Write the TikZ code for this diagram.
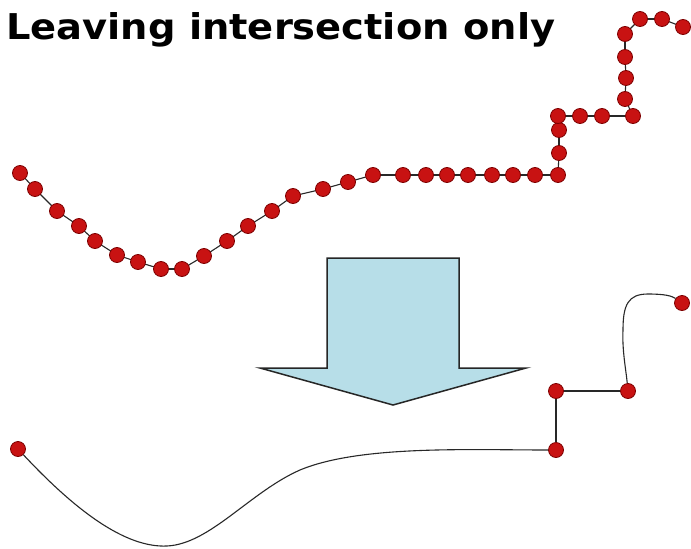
\documentclass[tikz,border=0pt]{standalone}
\usepackage{fontspec}
\setmainfont{DejaVu Sans}
\usepackage{graphicx}
\definecolor{dotred}{RGB}{200,18,18}
\definecolor{dotedge}{RGB}{125,0,0}
\definecolor{arrowfill}{RGB}{183,222,232}
\definecolor{linegray}{RGB}{40,40,40}
\begin{document}
\begin{tikzpicture}[x=1pt,y=-1pt,
  dot/.style={circle,minimum size=15pt,inner sep=0pt,fill=dotred,draw=dotedge,line width=0.8pt},
  link/.style={draw=linegray,line width=1.1pt},
  bigarrow/.style={fill=arrowfill,draw=black!85,line width=1.5pt,line join=miter}]
\useasboundingbox (0,0) rectangle (691,549);
\fill[white] (0,0) rectangle (691,549);
% title
\node[anchor=base west,inner sep=0pt] (title) at (6,39)
  {\resizebox{549pt}{\height}{\fontsize{35.5}{40}\selectfont\bfseries Leaving intersection only}};
% top chain of points
\foreach \i/\x/\y in {1/20/173,2/35/189,3/57/211,4/79/226,5/95/241,6/117/255,7/138/262,8/161/269,
  9/182/269,10/204/256,11/227/241,12/248/226,13/272/211,14/293/196,15/323/189,16/348/182,
  17/373/175,18/403/175,19/426/175,20/447/175,21/468/175,22/492/175,23/513/175,24/535/175,
  25/558/175,26/559/153,27/559/130,28/558/116,29/580/116,30/602/116,31/633/116,32/625/99,
  33/626/78,34/625/57,35/625/34,36/640/19,37/662/19,38/683/27}
  \coordinate (p\i) at (\x,\y);
\foreach \i [evaluate=\i as \j using int(\i+1)] in {1,...,37}
  \draw[link] (p\i) -- (p\j);
\foreach \i in {1,...,38}
  \node[dot] (t\i) at (p\i) {};
% big arrow
\coordinate (a1) at (327,258);
\coordinate (a2) at (459,258);
\coordinate (a3) at (459,368);
\coordinate (a4) at (526,368);
\coordinate (a5) at (393,405);
\coordinate (a6) at (260,368);
\coordinate (a7) at (327,368);
\path[bigarrow] (a1) -- (a2) -- (a3) -- (a4) -- (a5) -- (a6) -- (a7) -- cycle;
% bottom result
\node[dot] (b1) at (18,449) {};
\node[dot] (b2) at (556,450) {};
\node[dot] (b3) at (556,391) {};
\node[dot] (b4) at (628,391) {};
\node[dot] (b5) at (682,303) {};
\coordinate (m1) at (167,546);
\coordinate (m2) at (300,470);
\coordinate (m3) at (623,330);
\coordinate (m4) at (648,294);
\draw[link] (b1) .. controls (75,510) and (125,548) .. (m1)
  .. controls (210,544) and (250,492) .. (m2)
  .. controls (360,445) and (470,450) .. (b2);
\draw[link] (b2) -- (b3);
\draw[link] (b3) -- (b4);
\draw[link] (b4) .. controls (626,370) and (622,350) .. (m3)
  .. controls (623,305) and (628,294) .. (m4)
  .. controls (665,294) and (672,296) .. (b5);
\end{tikzpicture}
\end{document}
